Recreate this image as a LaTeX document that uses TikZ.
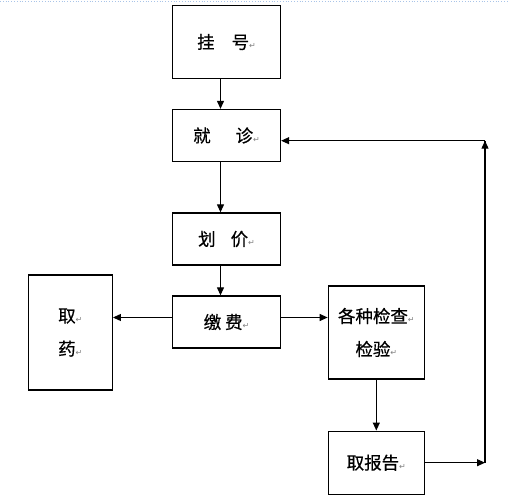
\documentclass[tikz,border=0pt]{standalone}
\usepackage{fontspec}
\usetikzlibrary{arrows.meta}
\newfontfamily\cjk{Noto Sans CJK SC}[FakeBold=0.6]
\newfontfamily\retfont{DejaVu Sans}
\definecolor{boxedge}{HTML}{000000}
\definecolor{retmark}{HTML}{808080}
\definecolor{pagemark}{HTML}{A9C4E8}
\newcommand{\ret}{{\retfont\color{retmark}\fontsize{8}{8}\selectfont ↵}}

\begin{document}
\begin{tikzpicture}[
  x=1pt, y=-1pt,
  step box/.style={rectangle, draw=boxedge, line width=1.3pt, inner sep=0pt,
              align=center, font=\cjk\fontsize{17.5}{20}\selectfont},
  arr/.style={draw=black, line width=1.1pt, -{Triangle[length=8pt, width=7pt]}},
  ln/.style={draw=black, line width=1.1pt},
]
\useasboundingbox (0,0) rectangle (509,497);
% page margin mark
\draw[pagemark, dotted, line width=0.8pt] (0,1) -- (509,1);
% main chain
\node[step box, minimum width=108pt, minimum height=73pt] (guahao) at (226.5, 42) {挂\hspace{17pt}号\ret};
\node[step box, minimum width=108pt, minimum height=52pt] (jiuzhen) at (226.5, 135.5) {就\hspace{25pt}诊\ret};
\node[step box, minimum width=108pt, minimum height=52pt] (huajia) at (226.5, 239) {划\hspace{15pt}价\ret};
\node[step box, minimum width=108pt, minimum height=52pt] (jiaofei) at (226.5, 322) {缴 费\ret};
% side branches
\node[step box, minimum width=84pt, minimum height=115pt] (quyao) at (70.3, 332.5) {取\ret\\[13pt]药\ret};
\node[step box, minimum width=96pt, minimum height=93pt] (jiancha) at (376.3, 332.5) {各种检查\ret\\[13pt]检验\ret};
\node[step box, minimum width=96pt, minimum height=63pt] (baogao) at (376.3, 462.7) {取报告\ret};
% feedback corner points
\coordinate (fbdown) at (485, 462.7);
\coordinate (fbup) at (485, 140.7);
% connectors
\draw[arr] ([xshift=-6pt]guahao.south) -- ([xshift=-6pt]jiuzhen.north);
\draw[arr] ([xshift=-6pt]jiuzhen.south) -- ([xshift=-6pt]huajia.north);
\draw[arr] ([xshift=-6pt]huajia.south) -- ([xshift=-6pt]jiaofei.north);
\draw[arr] ([yshift=4.5pt]jiaofei.west) -- ([yshift=4.5pt]jiaofei.west -| quyao.east);
\draw[arr] ([yshift=4.5pt]jiaofei.east) -- ([yshift=4.5pt]jiaofei.east -| jiancha.west);
\draw[arr] (jiancha) -- (baogao);
% report back to consultation
\draw[arr] (baogao.east) -- (fbdown);
\draw[ln] (fbdown) -- (fbup);
\draw[arr] ([yshift=-8pt]fbup) -- (fbup);
\draw[arr] (fbup) -- (fbup -| jiuzhen.east);
\end{tikzpicture}
\end{document}
